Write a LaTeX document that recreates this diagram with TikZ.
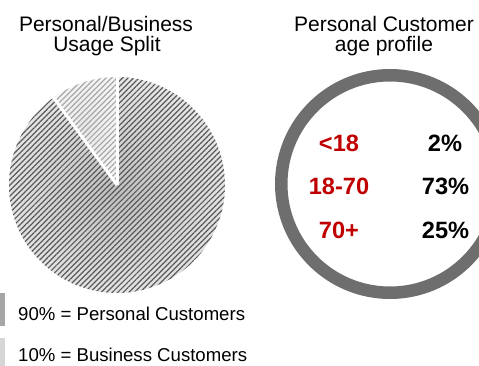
\documentclass[tikz,border=0pt]{standalone}
\usepackage{fontspec}
\setmainfont{Liberation Sans}
\usetikzlibrary{patterns.meta}
\definecolor{ringgray}{HTML}{6E6E6E}
\definecolor{agered}{HTML}{C00000}
\definecolor{mainhatch}{HTML}{5A5A5A}
\definecolor{bizhatch}{HTML}{A8A8A8}
\definecolor{swatchA}{HTML}{A6A6A6}
\definecolor{swatchB}{HTML}{D6D6D6}
\begin{document}
\begin{tikzpicture}[x=1pt,y=1pt,
  titletext/.style={font=\fontsize{21}{21}\selectfont, anchor=base, inner sep=0pt},
  legendtext/.style={font=\fontsize{18.6}{18.6}\selectfont, anchor=base west, inner sep=0pt},
  agelabel/.style={font=\fontsize{23.6}{23.6}\selectfont\bfseries, anchor=base, inner sep=0pt, text=agered},
  agevalue/.style={font=\fontsize{23.6}{23.6}\selectfont\bfseries, anchor=base, inner sep=0pt, text=black},
  mainslice/.style={preaction={shade, shading=radial, inner color=gray!50, outer color=gray!18},
    pattern={Lines[angle=45,distance=3.9pt,line width=1.2pt]}, pattern color=mainhatch},
  bizslice/.style={preaction={shade, shading=radial, inner color=gray!18, outer color=gray!8},
    pattern={Lines[angle=45,distance=3.9pt,line width=1.2pt]}, pattern color=bizhatch},
  separator/.style={draw=white, line width=3pt}
]
\useasboundingbox (0,0) rectangle (479,-366);

% titles
\node[titletext] (t1a) at (106,-31.5) {Personal/Business};
\node[titletext] (t1b) at (107,-52) {Usage Split};
\node[titletext] (t2a) at (384,-31.5) {Personal Customer};
\node[titletext] (t2b) at (384,-52) {age profile};

% pie
\coordinate (pc) at (117,-185);
\path[mainslice] (pc) -- ++(126:108) arc[start angle=126, end angle=450, radius=108] -- cycle;
\path[bizslice] (pc) -- ++(90:108) arc[start angle=90, end angle=126, radius=108] -- cycle;
\draw[separator] (pc) -- ++(90:110);
\draw[separator] (pc) -- ++(126:110);

% legend
\fill[swatchA] (0,-293) rectangle (5,-326);
\fill[swatchB] (0,-338) rectangle (5,-366);
\node[legendtext] (l1) at (18,-320) {90\% = Personal Customers};
\node[legendtext] (l2) at (18,-361) {10\% = Business Customers};

% ring
\node[circle, draw=ringgray, line width=12.5pt, minimum size=217.5pt, inner sep=0pt] (ring) at (390,-184) {};

% age table
\node[agelabel] (a1) at (339,-152) {<18};
\node[agelabel] (a2) at (339,-195) {18-70};
\node[agelabel] (a3) at (339,-238) {70+};
\node[agevalue] (v1) at (445,-152) {2\%};
\node[agevalue] (v2) at (445.5,-195) {73\%};
\node[agevalue] (v3) at (445.5,-238) {25\%};
\end{tikzpicture}
\end{document}
